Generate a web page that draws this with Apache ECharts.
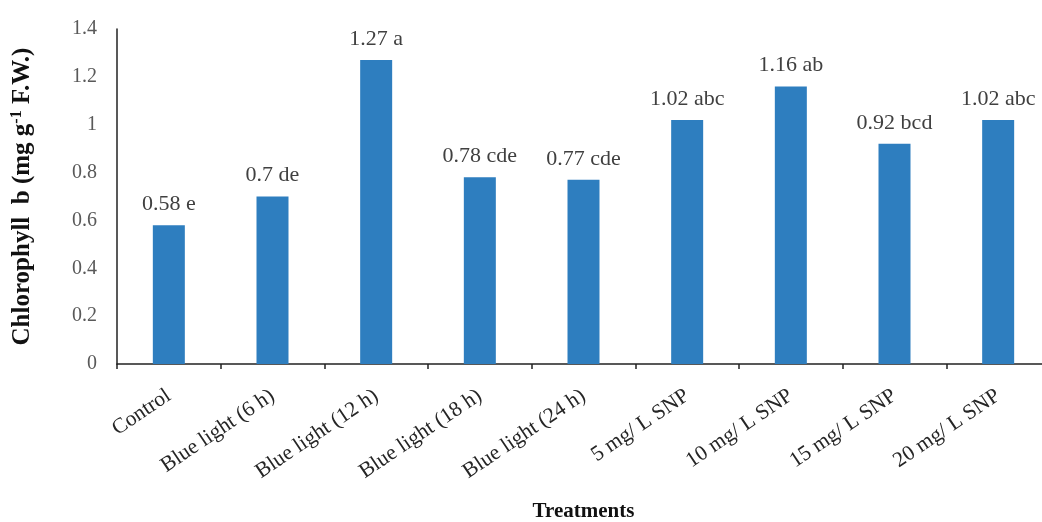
<!DOCTYPE html>
<html>
<head>
<meta charset="utf-8">
<style>
  html, body { margin: 0; padding: 0; background: #ffffff; }
  #chart { width: 1042px; height: 522px; }
</style>
<script src="https://cdn.jsdelivr.net/npm/echarts@6/dist/echarts.min.js"></script>
</head>
<body>
<div id="chart"></div>
<script>
// Treatments and chlorophyll b content (mg g-1 F.W.)
const categories = [
  'Control', 'Blue light (6 h)', 'Blue light (12 h)', 'Blue light (18 h)',
  'Blue light (24 h)', '5 mg/ L SNP', '10 mg/ L SNP', '15 mg/ L SNP', '20 mg/ L SNP'
];
const values = [0.58, 0.7, 1.27, 0.78, 0.77, 1.02, 1.16, 0.92, 1.02];
// Duncan grouping letters shown next to each value
const letters = ['e', 'de', 'a', 'cde', 'cde', 'abc', 'ab', 'bcd', 'abc'];

const serif = '"Liberation Serif", "Times New Roman", serif';

const chart = echarts.init(document.getElementById('chart'), null, { renderer: 'canvas' });

chart.setOption({
  animation: false,
  backgroundColor: '#ffffff',
  grid: {
    left: 117, top: 29, width: 933, height: 335,
    containLabel: false,
    outerBoundsMode: 'none'
  },
  xAxis: {
    type: 'category',
    data: categories,
    name: 'Treatments',
    nameLocation: 'middle',
    nameGap: 137,
    nameTextStyle: { fontFamily: serif, fontWeight: 'bold', fontSize: 21, color: '#111' },
    axisLine: { lineStyle: { color: '#222', width: 1.5 } },
    axisTick: { show: true, alignWithLabel: false, length: 5, lineStyle: { color: '#222', width: 1.5 } },
    axisLabel: {
      rotate: 34,
      margin: 30,
      fontFamily: serif,
      fontSize: 21.5,
      color: '#262626',
      interval: 0
    }
  },
  yAxis: {
    type: 'value',
    min: 0,
    max: 1.4,
    interval: 0.2,
    name: '{t|Chlorophyll  b (mg g}{s|-1}{t| F.W.)}',
    nameLocation: 'middle',
    nameGap: 80,
    nameRotate: 90,
    nameTextStyle: {
      rich: {
        t: { fontFamily: serif, fontWeight: 'bold', fontSize: 25, color: '#111' },
        s: { fontFamily: serif, fontWeight: 'bold', fontSize: 16, color: '#111', padding: [0, 0, 12, 0] }
      }
    },
    axisLine: { show: true, lineStyle: { color: '#222', width: 1.5 } },
    axisTick: { show: false },
    splitLine: { show: false },
    axisLabel: {
      margin: 20,
      fontFamily: serif,
      fontSize: 20,
      color: '#595959'
    }
  },
  series: [{
    type: 'bar',
    data: values,
    barWidth: 32,
    itemStyle: { color: '#2e7ebf' },
    label: {
      show: true,
      position: 'top',
      distance: 10,
      fontFamily: serif,
      fontSize: 22,
      color: '#404040',
      formatter: p => p.value + ' ' + letters[p.dataIndex]
    }
  }]
});
</script>
</body>
</html>
